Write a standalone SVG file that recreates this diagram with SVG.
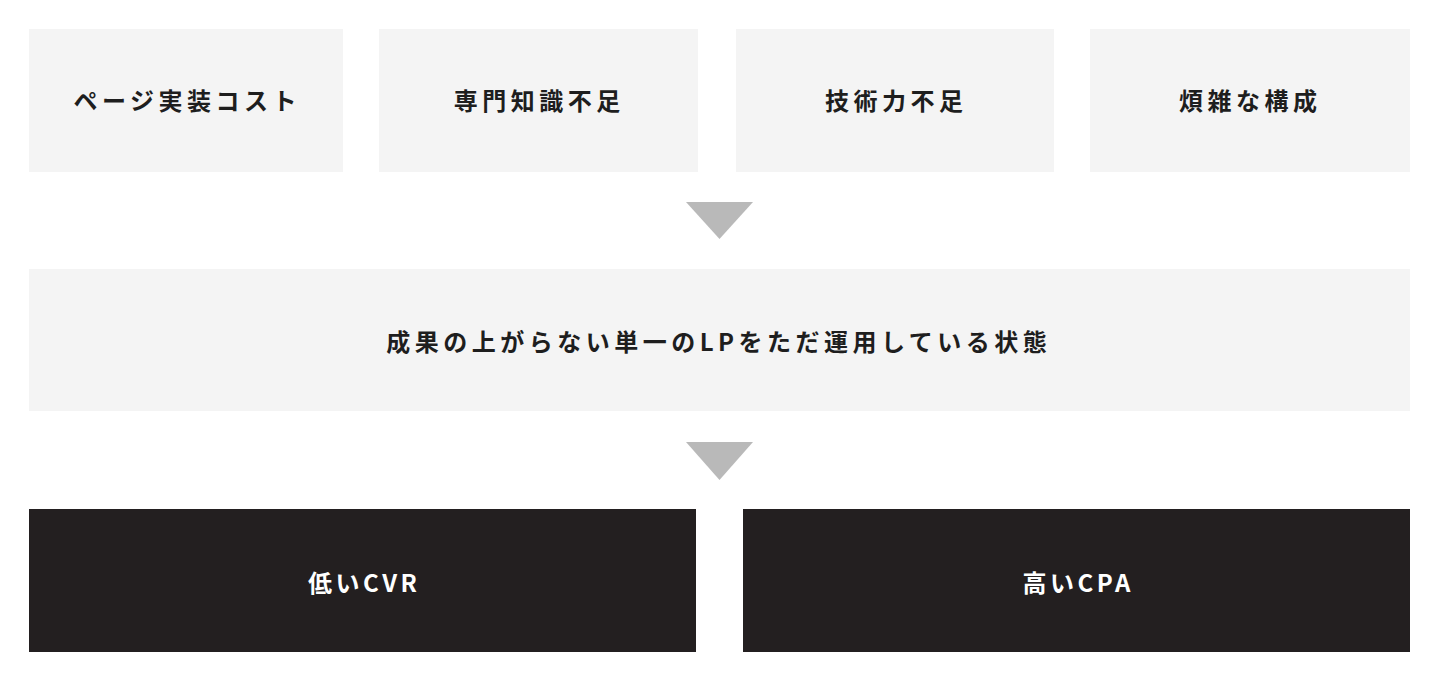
<svg xmlns="http://www.w3.org/2000/svg" width="1440" height="673" viewBox="0 0 1440 673">
<style>
.light{fill:#f4f4f4}
.dark{fill:#231f20}
.arrow{fill:#b9b9b9}
text{font-family:"Noto Sans CJK JP","Noto Sans",sans-serif;font-weight:bold;font-size:24px;letter-spacing:4.5px;text-anchor:middle;dominant-baseline:central}
.t1{fill:#1e1e1e}
.t2{fill:#ffffff;letter-spacing:3.5px}
</style>
<rect width="1440" height="673" fill="#ffffff"/>
<g id="node-page-cost"><rect class="light" x="29" y="29" width="314" height="143"/><text class="t1" x="187.25" y="99.5">ページ実装コスト</text></g>
<g id="node-expertise"><rect class="light" x="379" y="29" width="319" height="143"/><text class="t1" x="539.25" y="99.5">専門知識不足</text></g>
<g id="node-skill"><rect class="light" x="736" y="29" width="318" height="143"/><text class="t1" x="896.25" y="99.5">技術力不足</text></g>
<g id="node-complex"><rect class="light" x="1090" y="29" width="320" height="143"/><text class="t1" x="1250.25" y="99.5">煩雑な構成</text></g>
<g id="node-state"><rect class="light" x="29" y="269" width="1381" height="142"/><text class="t1" x="718.75" y="340">成果の上がらない単一のLPをただ運用している状態</text></g>
<g id="node-low-cvr"><rect class="dark" x="29" y="509" width="667" height="143"/><text class="t2" x="364.25" y="581">低いCVR</text></g>
<g id="node-high-cpa"><rect class="dark" x="743" y="509" width="667" height="143"/><text class="t2" x="1078.25" y="581">高いCPA</text></g>
<g id="connectors">
<polygon class="arrow" points="686,202 753,202 719.5,239"/>
<polygon class="arrow" points="686,442 753,442 719.5,480"/>
</g>
</svg>
